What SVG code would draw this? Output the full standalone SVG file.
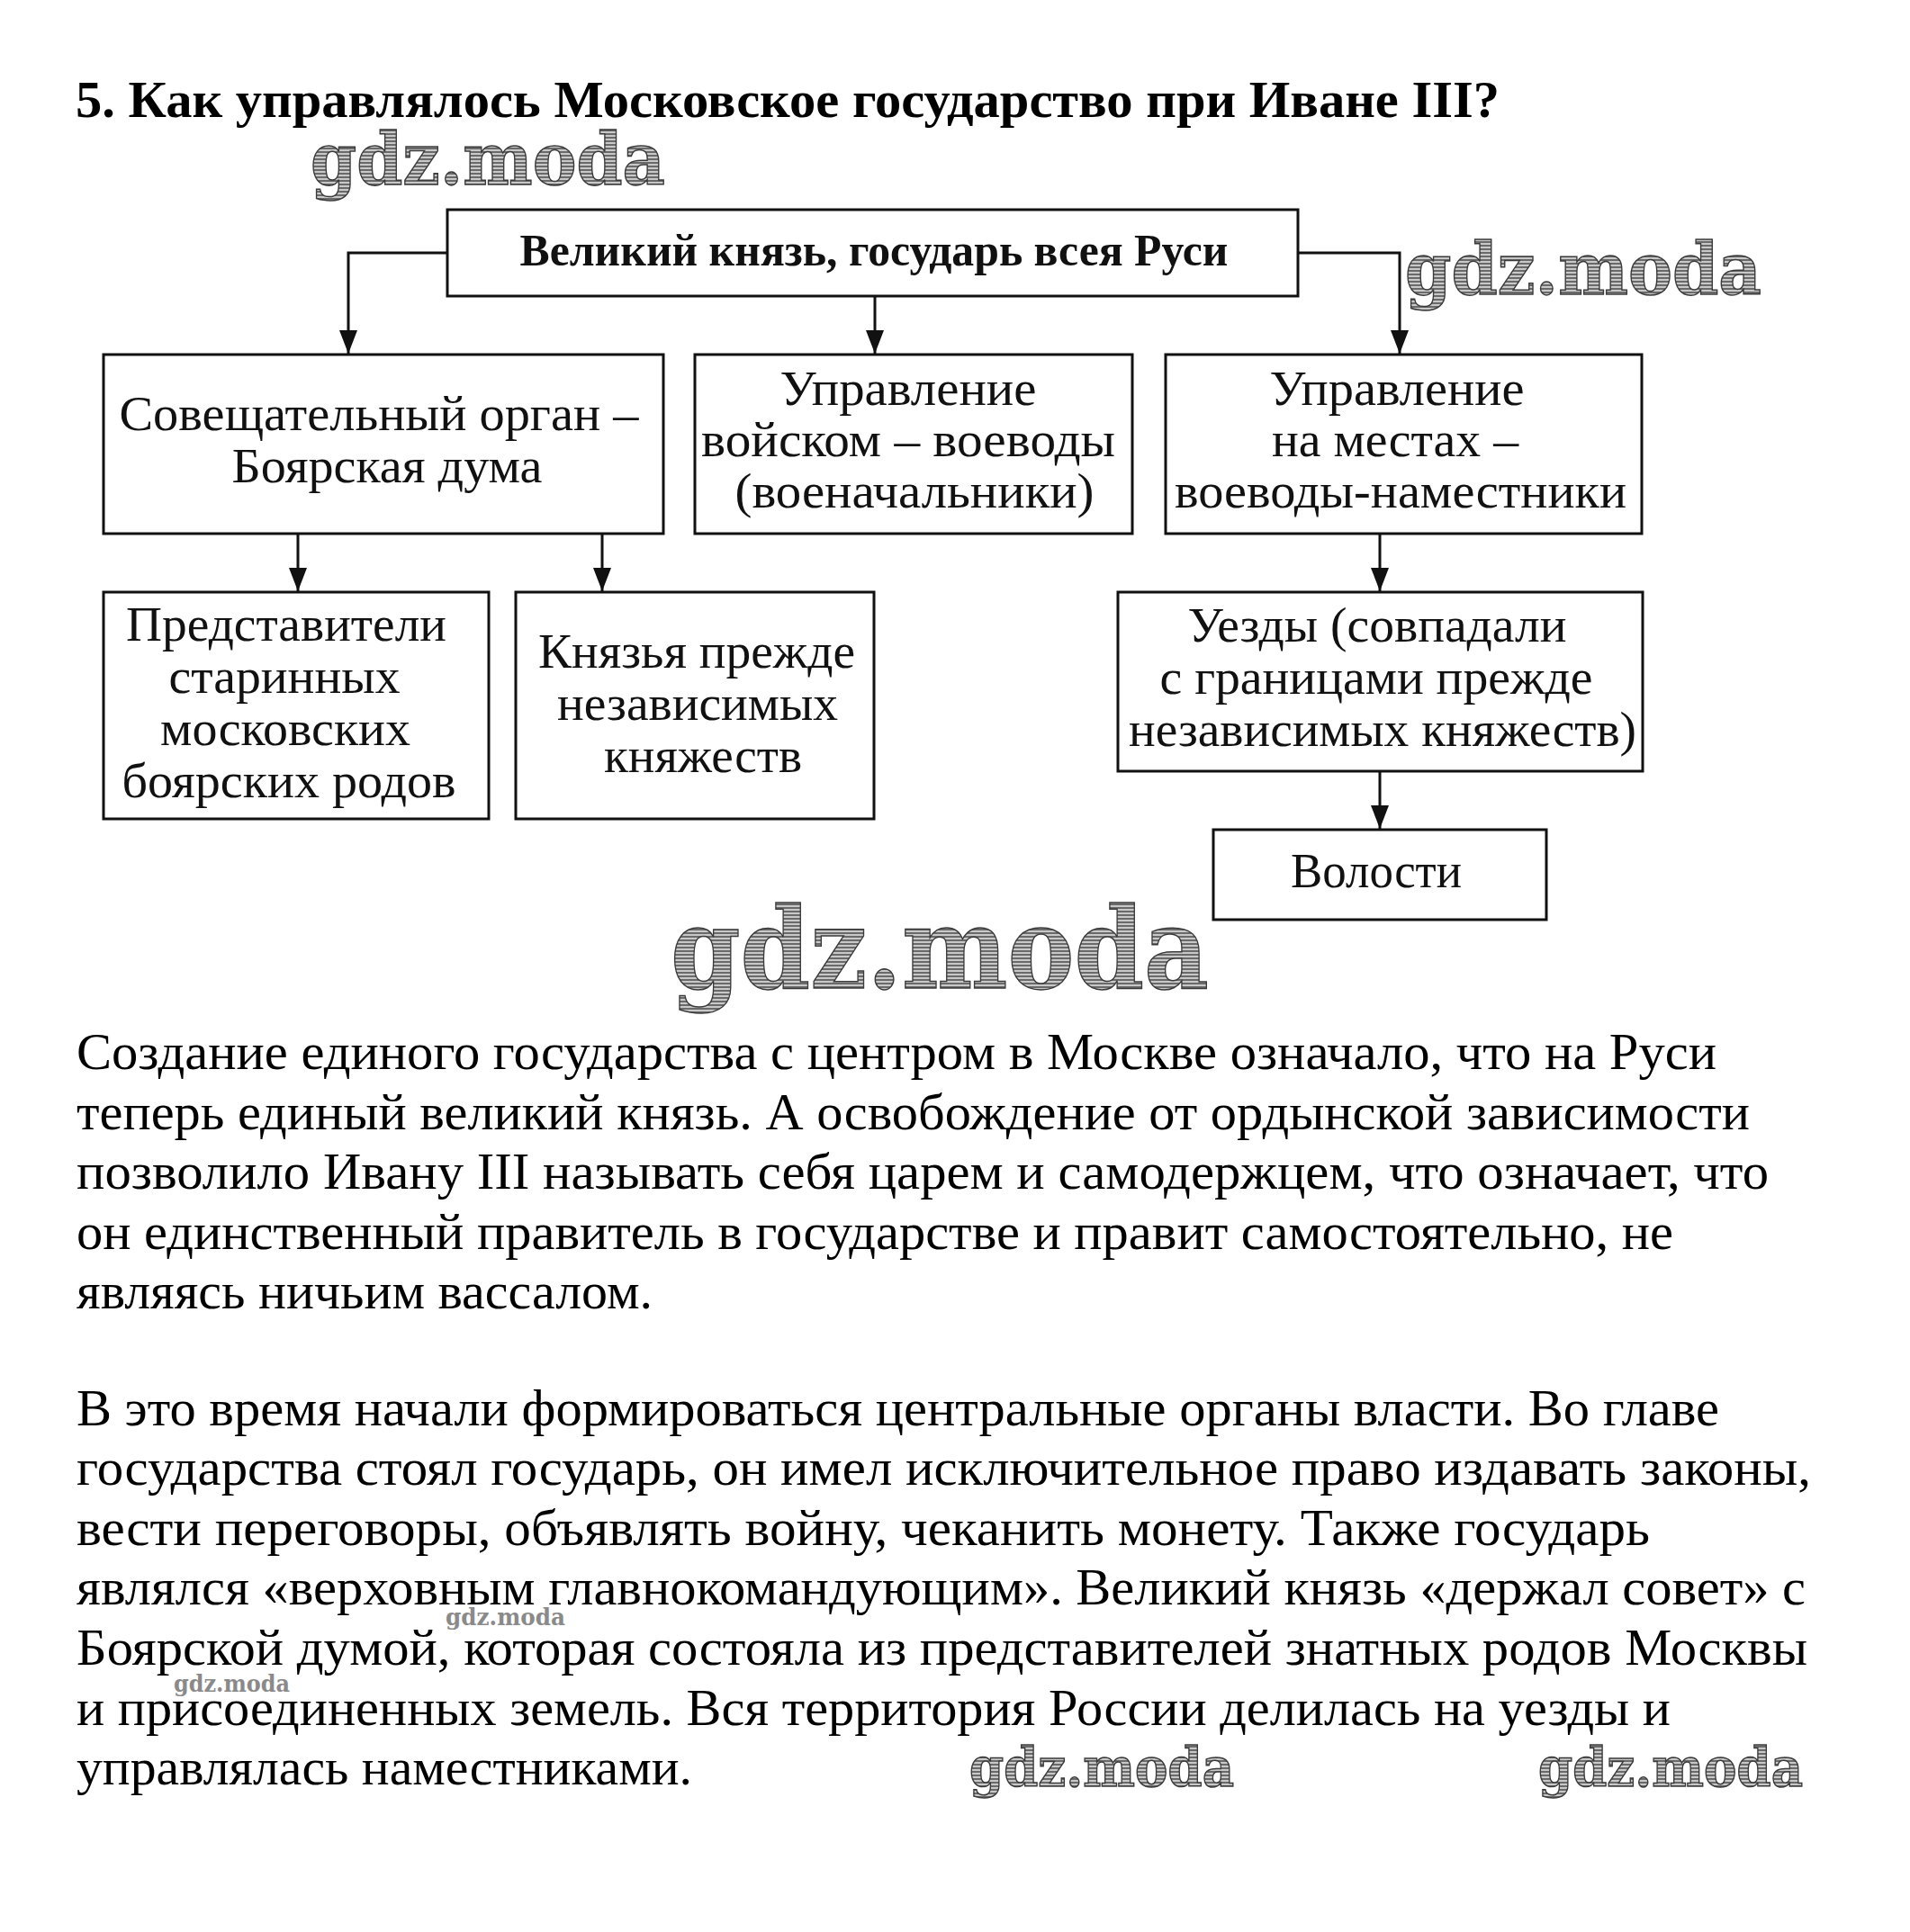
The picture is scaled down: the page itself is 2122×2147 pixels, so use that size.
<svg xmlns="http://www.w3.org/2000/svg" width="2122" height="2147" viewBox="0 0 2122 2147">
<defs>
<style>
.box{fill:#fff;stroke:#111;stroke-width:3}
.bt{font-family:"Liberation Serif","Times New Roman",serif;font-size:54px;fill:#111;text-anchor:middle}
.bb{font-family:"Liberation Serif","Times New Roman",serif;font-size:50px;font-weight:bold;fill:#111;text-anchor:middle}
.title{font-family:"Liberation Serif","Times New Roman",serif;font-size:56px;font-weight:bold;fill:#000}
.body{font-family:"Liberation Serif","Times New Roman",serif;font-size:56px;fill:#000}
.wm{font-family:"DejaVu Serif",serif;font-weight:bold;fill:url(#hatch);stroke:#3a3a3a;stroke-width:1.5}
.wms{font-family:"DejaVu Serif",serif;font-weight:bold;fill:#8a8a8a}
.conn{fill:none;stroke:#111;stroke-width:3}
</style>
<pattern id="hatch" width="4" height="4" patternUnits="userSpaceOnUse">
<rect width="4" height="4" fill="#c8c8c8"/>
<rect width="4" height="2" fill="#6a6a6a"/>
</pattern>
<marker id="arr" markerUnits="userSpaceOnUse" markerWidth="26" markerHeight="20" viewBox="0 0 26 20" refX="26" refY="10" orient="auto">
<path d="M0,0 L26,10 L0,20 Z" fill="#111"/>
</marker>
</defs>
<rect width="2122" height="2147" fill="#fff"/>

<text class="title" x="84" y="130" textLength="1582" lengthAdjust="spacingAndGlyphs">5. Как управлялось Московское государство при Иване III?</text>

<g id="connectors">
<path class="conn" d="M497,281 H387 V393" marker-end="url(#arr)"/>
<path class="conn" d="M972,330 V393" marker-end="url(#arr)"/>
<path class="conn" d="M1442,281 H1555 V393" marker-end="url(#arr)"/>
<path class="conn" d="M331,593 V657" marker-end="url(#arr)"/>
<path class="conn" d="M669,593 V657" marker-end="url(#arr)"/>
<path class="conn" d="M1533,593 V657" marker-end="url(#arr)"/>
<path class="conn" d="M1533,857 V921" marker-end="url(#arr)"/>
</g>

<g id="node-ruler">
<rect class="box" x="497" y="233" width="945" height="96"/>
<text class="bb" x="971" y="295" textLength="787" lengthAdjust="spacingAndGlyphs">Великий князь, государь всея Руси</text>
</g>

<g id="node-duma">
<rect class="box" x="115" y="394" width="622" height="199"/>
<text class="bt" x="421" y="478" textLength="577" lengthAdjust="spacingAndGlyphs">Совещательный орган –</text>
<text class="bt" x="430" y="536" textLength="345" lengthAdjust="spacingAndGlyphs">Боярская дума</text>
</g>

<g id="node-army">
<rect class="box" x="772" y="394" width="486" height="199"/>
<text class="bt" x="1009" y="450" textLength="285" lengthAdjust="spacingAndGlyphs">Управление</text>
<text class="bt" x="1009" y="507" textLength="460" lengthAdjust="spacingAndGlyphs">войском – воеводы</text>
<text class="bt" x="1016" y="564" textLength="399" lengthAdjust="spacingAndGlyphs">(военачальники)</text>
</g>

<g id="node-local">
<rect class="box" x="1295" y="394" width="529" height="199"/>
<text class="bt" x="1552" y="450" textLength="283" lengthAdjust="spacingAndGlyphs">Управление</text>
<text class="bt" x="1550" y="507" textLength="274" lengthAdjust="spacingAndGlyphs">на местах –</text>
<text class="bt" x="1556" y="564" textLength="502" lengthAdjust="spacingAndGlyphs">воеводы-наместники</text>
</g>

<g id="node-boyars">
<rect class="box" x="115" y="658" width="428" height="252"/>
<text class="bt" x="318" y="712" textLength="356" lengthAdjust="spacingAndGlyphs">Представители</text>
<text class="bt" x="316" y="770" textLength="257" lengthAdjust="spacingAndGlyphs">старинных</text>
<text class="bt" x="317" y="828" textLength="278" lengthAdjust="spacingAndGlyphs">московских</text>
<text class="bt" x="321" y="886" textLength="371" lengthAdjust="spacingAndGlyphs">боярских родов</text>
</g>

<g id="node-princes">
<rect class="box" x="573" y="658" width="398" height="252"/>
<text class="bt" x="774" y="742" textLength="352" lengthAdjust="spacingAndGlyphs">Князья прежде</text>
<text class="bt" x="775" y="800" textLength="312" lengthAdjust="spacingAndGlyphs">независимых</text>
<text class="bt" x="781" y="858" textLength="220" lengthAdjust="spacingAndGlyphs">княжеств</text>
</g>

<g id="node-uezdy">
<rect class="box" x="1242" y="658" width="583" height="199"/>
<text class="bt" x="1530" y="713" textLength="421" lengthAdjust="spacingAndGlyphs">Уезды (совпадали</text>
<text class="bt" x="1529" y="771" textLength="481" lengthAdjust="spacingAndGlyphs">с границами прежде</text>
<text class="bt" x="1536" y="829" textLength="564" lengthAdjust="spacingAndGlyphs">независимых княжеств)</text>
</g>

<g id="node-volosti">
<rect class="box" x="1348" y="922" width="370" height="100"/>
<text class="bt" x="1529" y="986" textLength="190" lengthAdjust="spacingAndGlyphs">Волости</text>
</g>

<g id="text-para1">
<text class="body" x="85" y="1188" textLength="1822" lengthAdjust="spacingAndGlyphs">Создание единого государства с центром в Москве означало, что на Руси</text>
<text class="body" x="85" y="1255" textLength="1859" lengthAdjust="spacingAndGlyphs">теперь единый великий князь. А освобождение от ордынской зависимости</text>
<text class="body" x="85" y="1321" textLength="1880" lengthAdjust="spacingAndGlyphs">позволило Ивану III называть себя царем и самодержцем, что означает, что</text>
<text class="body" x="85" y="1388" textLength="1774" lengthAdjust="spacingAndGlyphs">он единственный правитель в государстве и правит самостоятельно, не</text>
<text class="body" x="85" y="1454" textLength="640" lengthAdjust="spacingAndGlyphs">являясь ничьим вассалом.</text>
</g>

<g id="text-para2">
<text class="body" x="85" y="1584" textLength="1825" lengthAdjust="spacingAndGlyphs">В это время начали формироваться центральные органы власти. Во главе</text>
<text class="body" x="85" y="1650" textLength="1927" lengthAdjust="spacingAndGlyphs">государства стоял государь, он имел исключительное право издавать законы,</text>
<text class="body" x="85" y="1717" textLength="1748" lengthAdjust="spacingAndGlyphs">вести переговоры, объявлять войну, чеканить монету. Также государь</text>
<text class="body" x="85" y="1783" textLength="1921" lengthAdjust="spacingAndGlyphs">являлся «верховным главнокомандующим». Великий князь «держал совет» с</text>
<text class="body" x="85" y="1850" textLength="1923" lengthAdjust="spacingAndGlyphs">Боярской думой, которая состояла из представителей знатных родов Москвы</text>
<text class="body" x="85" y="1917" textLength="1771" lengthAdjust="spacingAndGlyphs">и присоединенных земель. Вся территория России делилась на уезды и</text>
<text class="body" x="85" y="1983" textLength="684" lengthAdjust="spacingAndGlyphs">управлялась наместниками.</text>
</g>

<g id="watermarks">
<text class="wm" x="345" y="205" font-size="80" textLength="394" lengthAdjust="spacingAndGlyphs">gdz.moda</text>
<text class="wm" x="1561" y="327" font-size="80" textLength="396" lengthAdjust="spacingAndGlyphs">gdz.moda</text>
<text class="wm" x="745" y="1098" font-size="125" textLength="598" lengthAdjust="spacingAndGlyphs">gdz.moda</text>
<text class="wms" x="495" y="1806" font-size="26" textLength="133" lengthAdjust="spacingAndGlyphs">gdz.moda</text>
<text class="wms" x="193" y="1880" font-size="26" textLength="129" lengthAdjust="spacingAndGlyphs">gdz.moda</text>
<text class="wm" x="1077" y="1985" font-size="60" textLength="294" lengthAdjust="spacingAndGlyphs">gdz.moda</text>
<text class="wm" x="1709" y="1985" font-size="60" textLength="294" lengthAdjust="spacingAndGlyphs">gdz.moda</text>
</g>
</svg>
